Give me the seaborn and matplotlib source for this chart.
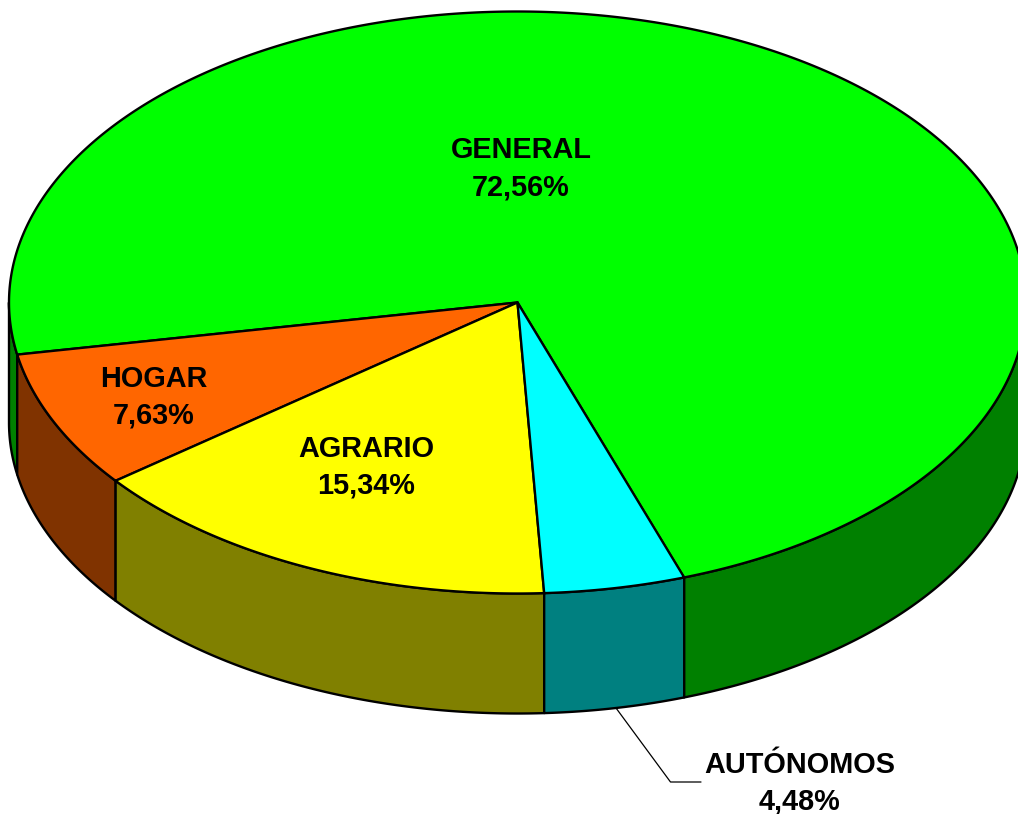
import numpy as np
import matplotlib
matplotlib.use("Agg")
import matplotlib.pyplot as plt
from matplotlib.patches import Polygon
import seaborn as sns

label_names = ["GENERAL", "HOGAR", "AGRARIO", "AUTÓNOMOS"]
shares = [72.56, 7.63, 15.34, 4.48]
shares_labels = ["72,56%", "7,63%", "15,34%", "4,48%"]
top_colors = ["#00FF00", "#FF6600", "#FFFF00", "#00FFFF"]
side_colors = ["#008000", "#803300", "#808000", "#008080"]

sns.set_theme(style="white")
plt.rcParams["font.family"] = ["Liberation Sans", "DejaVu Sans"]

W, H = 1018, 814
fig = plt.figure(figsize=(W / 100, H / 100), dpi=100)
ax = fig.add_axes([0, 0, 1, 1])
ax.set_xlim(0, W)
ax.set_ylim(H, 0)
ax.axis("off")

cx, cy, rx, ry, depth = 517.5, 302.5, 508.5, 291, 120
lw = 1.7


def rim(theta):
    """theta in degrees from straight down; growing runs counter-clockwise on screen."""
    t = np.radians(theta)
    return cx + rx * np.sin(t), cy + ry * np.cos(t)


start = 19.1
bounds = [start]
for s in shares:
    bounds.append(bounds[-1] + s * 3.6)

# Side walls: only the part of the rim in the lower half is visible.
for i in range(len(shares)):
    a0, a1 = bounds[i], bounds[i + 1]
    for lo, hi in [(-90, 90), (270, 450)]:
        l, h = max(a0, lo), min(a1, hi)
        if l < h:
            th = np.linspace(l, h, 300)
            x, y = rim(th)
            pts = np.r_[np.c_[x, y], np.c_[x[::-1], y[::-1] + depth]]
            ax.add_patch(Polygon(pts, closed=True, fc=side_colors[i], ec="black",
                                 lw=lw, joinstyle="round", zorder=2))

# Top faces
for i in range(len(shares)):
    th = np.linspace(bounds[i], bounds[i + 1], 800)
    x, y = rim(th)
    pts = np.r_[[[cx, cy]], np.c_[x, y]]
    ax.add_patch(Polygon(pts, closed=True, fc=top_colors[i], ec="black",
                         lw=lw, joinstyle="round", zorder=3))

font = dict(fontsize=20.8, fontweight="bold", color="black", ha="center",
            va="baseline", zorder=5)
label_pos = [(521, 195), (154, 424), (366, 493.5), (800, 809.5)]
for name, val, (lx, ly) in zip(label_names, shares_labels, label_pos):
    ax.text(lx, ly - 36.7, name, **font)
    ax.text(lx, ly, val, **font)

# Leader line for the small slice
ax.plot([616, 670.5, 701], [708, 782, 782], color="black", lw=0.9, zorder=1)

fig.savefig("out.png", dpi=100, facecolor="white")
